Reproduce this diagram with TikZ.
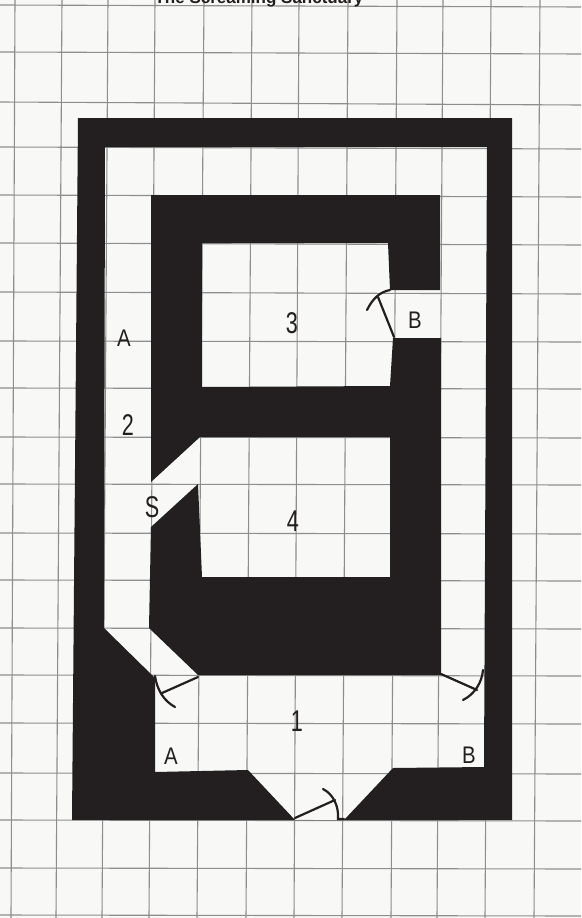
\documentclass[tikz,border=0pt]{standalone}
\usepackage{fontspec}
\setmainfont{Liberation Sans}
\definecolor{paper}{HTML}{F8F8F6}
\definecolor{gridc}{HTML}{8E8E8E}
\definecolor{ink}{HTML}{231F20}
\tikzset{
  gridline/.style={draw=gridc,line width=1.1pt},
  wall/.style={fill=ink,draw=none},
  doorline/.style={draw=ink,line width=2.2pt,line cap=round},
  hand/.style={text=ink,font=\fontsize{24}{24}\selectfont,inner sep=0pt,xscale=0.85},
  handdigit/.style={text=ink,font=\fontsize{30}{30}\selectfont,inner sep=0pt,xscale=0.72},
}
\begin{document}
\begin{tikzpicture}[x=1pt,y=-1pt]
\useasboundingbox (0,0) rectangle (581,918);
\fill[paper] (0,0) rectangle (581,918);
% grid: verticals (slightly skewed)
\foreach \t/\b in {15/11,62/56,108/102,155/149,204/197,252/246,299/294,348/342,397/391,443/437,491/485,540/534}
  \draw[gridline] (\t,0) -- (\b,918);
% grid: horizontals
\foreach \l/\r in {5/7,52/54,102/105,147/149,195/197,243/245,292/294,341/342,388/389,437/438,484/485,533/534,580/581,628/629,675/676,723/724,773/774,820/821,868/869,915/916}
  \draw[gridline] (0,\l) -- (581,\r);
% title (cut by the top edge, as in the reference)
\node[inner sep=0pt,font=\bfseries\fontsize{17}{17}\selectfont,text=ink] (title) at (259,-1) {The Screaming Sanctuary};
% outer wall
\path[wall,even odd rule]
  (78,118) -- (512,118) -- (512,820) -- (72,820) -- cycle
  (105,147) -- (487,147) -- (484,767) -- (393,768) -- (344,820) -- (295,820) -- (248,770) -- (155,772) -- (155,678) -- (104,628) -- cycle;
% inner walls
\path[wall]
  (151,195) -- (440,195) -- (440,290) -- (390,290) -- (388,243) -- (202,243) -- (202,387) -- (390,386) -- (393,338) -- (441,338)
  -- (441,675) -- (198,675) -- (149,628) -- (151,527) -- (198,484) -- (202,577) -- (390,577) -- (390,437) -- (200,437) -- (151,482) -- cycle;
% doors
\draw[doorline] (394,337) -- (378,297);
\draw[doorline] (390,290) .. controls (380,292) and (373,298) .. (367,310);
\draw[doorline] (198,677) -- (162,693);
\draw[doorline] (155,676) .. controls (157,690) and (164,701) .. (175,707);
\draw[doorline] (441,674) -- (477,690);
\draw[doorline] (483,670) .. controls (482,682) and (475,694) .. (463,700);
\draw[doorline] (295,818) -- (335,800);
\draw[doorline] (323,789) .. controls (333,794) and (339,806) .. (338,819) -- (344,819);
% labels
\node[hand] (a1) at (124,338) {A};
\node[handdigit] (n2) at (128,425) {2};
\node[handdigit] (n3) at (292,323) {3};
\node[hand] (b1) at (415,320) {B};
\node[handdigit] (s1) at (152,507) {S};
\node[handdigit] (n4) at (293,521) {4};
\node[handdigit] (n1) at (297,721) {1};
\node[hand] (a2) at (171,756) {A};
\node[hand] (b2) at (469,755) {B};
\end{tikzpicture}
\end{document}
